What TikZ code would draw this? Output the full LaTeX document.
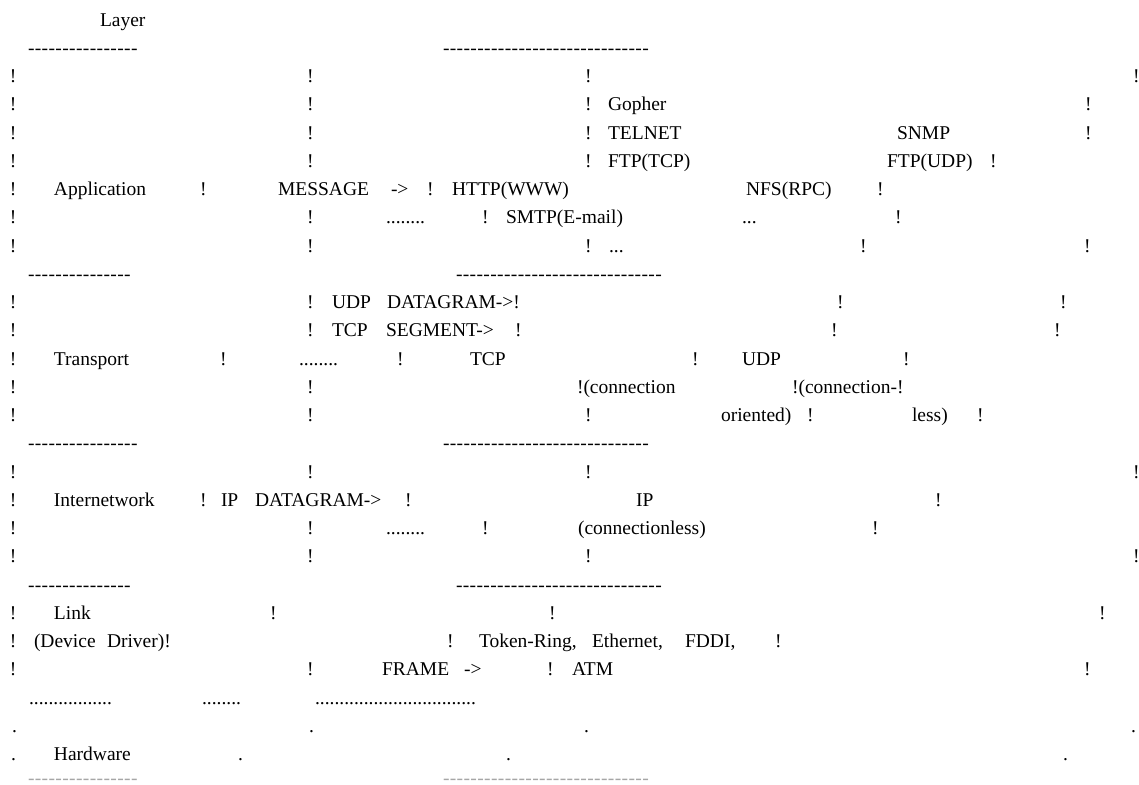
\documentclass[tikz,border=0pt]{standalone}
\usepackage{fontspec}
\setmainfont{Liberation Serif}
\usepackage{tikz}
\tikzset{
  cell/.style={anchor=base west, inner sep=0pt, outer sep=0pt, font=\fontsize{9.75}{12}\selectfont},
  fadedcell/.style={cell, text=black!35}
}
% hyphens without the TeX dash ligature
\newcommand\hy[1]{\foreach\j in {1,...,#1}{-\kern0.19pt}}
% one text row: number, then x/text pairs
\newcommand\txtrow[2]{\foreach \x/\s [count=\k] in {#2}
  \node[cell] (r#1-\k) at (\x,{26+28.25*(#1-1)}) {\s};}

\begin{document}
\begin{tikzpicture}[x=0.5pt, y=-0.5pt]
\useasboundingbox (0,0) rectangle (1139,784);
% Application layer
\txtrow{1}{100/Layer}
\txtrow{2}{28/{\hy{16}}, 443/{\hy{30}}}
\txtrow{3}{10/!, 307/!, 585/!, 1133/!}
\txtrow{4}{10/!, 307/!, 585/!, 608/Gopher, 1085/!}
\txtrow{5}{10/!, 307/!, 585/!, 608/TELNET, 897/SNMP, 1085/!}
\txtrow{6}{10/!, 307/!, 585/!, 608/{FTP(TCP)}, 887/{FTP(UDP)}, 990/!}
\txtrow{7}{10/!, 54/Application, 200/!, 278/MESSAGE, 391/->, 427/!, 452/{HTTP(WWW)}, 746/{NFS(RPC)}, 877/!}
\txtrow{8}{10/!, 307/!, 386/{........}, 482/!, 506/{SMTP(E-mail)}, 742/{...}, 895/!}
\txtrow{9}{10/!, 307/!, 585/!, 609/{...}, 860/!, 1084/!}
% Transport layer
\txtrow{10}{28/{\hy{15}}, 456/{\hy{30}}}
\txtrow{11}{10/!, 307/!, 332/UDP, 387/{DATAGRAM->!}, 837/!, 1060/!}
\txtrow{12}{10/!, 307/!, 332/TCP, 386/{SEGMENT->}, 515/!, 831/!, 1054/!}
\txtrow{13}{10/!, 54/Transport, 220/!, 299/{........}, 397/!, 470/TCP, 692/!, 742/UDP, 903/!}
\txtrow{14}{10/!, 307/!, 577/{!(connection}, 792/{!(connection-!}}
\txtrow{15}{10/!, 307/!, 585/!, 721/{oriented)}, 807/!, 912/{less)}, 977/!}
% Internetwork layer
\txtrow{16}{28/{\hy{16}}, 443/{\hy{30}}}
\txtrow{17}{10/!, 307/!, 585/!, 1133/!}
\txtrow{18}{10/!, 54/Internetwork, 200/!, 221/IP, 255/{DATAGRAM->}, 405/!, 636/IP, 935/!}
\txtrow{19}{10/!, 307/!, 386/{........}, 482/!, 578/{(connectionless)}, 872/!}
\txtrow{20}{10/!, 307/!, 585/!, 1133/!}
% Link layer
\txtrow{21}{28/{\hy{15}}, 456/{\hy{30}}}
\txtrow{22}{10/!, 54/Link, 270/!, 549/!, 1099/!}
\txtrow{23}{10/!, 34/{(Device}, 107/{Driver)!}, 447/!, 479/{Token-Ring,}, 592/{Ethernet,}, 685/{FDDI,}, 775/!}
\txtrow{24}{10/!, 307/!, 382/FRAME, 464/->, 547/!, 572/ATM, 1084/!}
% Hardware
\txtrow{25}{29/{.................}, 202/{........}, 315/{.................................}}
\txtrow{26}{12/., 309/., 584/., 1131/.}
\txtrow{27}{11/., 54/Hardware, 238/., 506/., 1063/.}
\node[fadedcell] (r28-1) at (28,784) {\hy{16}};
\node[fadedcell] (r28-2) at (443,784) {\hy{30}};
\end{tikzpicture}
\end{document}
